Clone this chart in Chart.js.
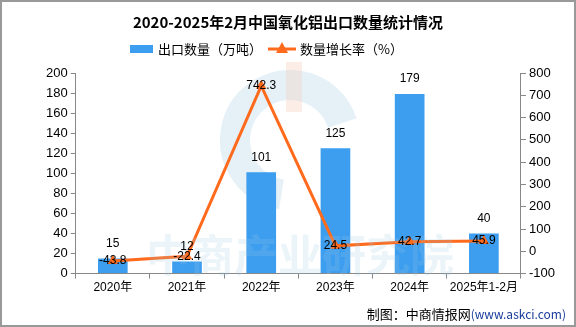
<!DOCTYPE html>
<html>
<head>
<meta charset="utf-8">
<script src="https://cdn.jsdelivr.net/npm/chart.js@4.4.1/dist/chart.umd.min.js"></script>
<style>
  html, body { margin: 0; padding: 0; background: #fff; }
  #wrap { width: 576px; height: 327px; position: relative; }
</style>
</head>
<body>
<div id="wrap"><canvas id="chart" width="576" height="327"></canvas></div>
<script>
const categories = ['2020年', '2021年', '2022年', '2023年', '2024年', '2025年1-2月'];
const exportVolume = [15, 12, 101, 125, 179, 40];
const growthRate = [-43.8, -22.4, 742.3, 24.5, 42.7, 45.9];
const leftTicks = [0, 20, 40, 60, 80, 100, 120, 140, 160, 180, 200];
const rightTicks = [-100, 0, 100, 200, 300, 400, 500, 600, 700, 800];

const BLUE = '#3d9ef0';
const ORANGE = '#ff6a1c';
const FONT = '"Liberation Sans", "Noto Sans CJK SC", sans-serif';

// title, legend, watermark, labels, frame
const decor = {
  id: 'decor',
  beforeDatasetsDraw(chart) {
    const ctx = chart.ctx;
    ctx.save();
    // faint logo ring
    ctx.globalAlpha = 0.3;
    ctx.strokeStyle = '#a9cde6';
    ctx.lineWidth = 30;
    ctx.beginPath();
    ctx.arc(290, 140, 55, Math.PI * 0.55, Math.PI * 1.9);
    ctx.stroke();
    ctx.fillStyle = '#f6c7b0';
    ctx.fillRect(286, 62, 16, 50);
    ctx.restore();
  },
  afterDatasetsDraw(chart) {
    const ctx = chart.ctx;
    ctx.save();
    // watermark text
    ctx.globalAlpha = 0.2;
    ctx.fillStyle = '#9cc6e2';
    ctx.font = 'bold 44px "Noto Sans CJK SC"';
    ctx.textAlign = 'center';
    ctx.textBaseline = 'middle';
    ctx.fillText('中商产业研究院', 300, 255);
    ctx.globalAlpha = 1;

    // value labels
    ctx.fillStyle = '#000';
    ctx.font = '12px ' + FONT;
    const barMeta = chart.getDatasetMeta(0);
    barMeta.data.forEach((bar, i) => {
      ctx.fillText(String(exportVolume[i]), bar.x, bar.y - 15);
    });
    const lineMeta = chart.getDatasetMeta(1);
    lineMeta.data.forEach((pt, i) => {
      ctx.fillText(growthRate[i].toFixed(1), pt.x, pt.y);
    });

    // title
    ctx.font = 'bold 15px "Noto Sans CJK SC"';
    ctx.fillText('2020-2025年2月中国氧化铝出口数量统计情况', 288, 22);

    // legend
    ctx.fillStyle = BLUE;
    ctx.fillRect(130, 45, 23, 8);
    ctx.fillStyle = '#000';
    ctx.font = '13px "Noto Sans CJK SC"';
    ctx.textAlign = 'left';
    ctx.fillText('出口数量（万吨）', 158, 49);
    ctx.strokeStyle = ORANGE;
    ctx.lineWidth = 3;
    ctx.beginPath();
    ctx.moveTo(268, 49);
    ctx.lineTo(296, 49);
    ctx.stroke();
    ctx.fillStyle = ORANGE;
    ctx.beginPath();
    ctx.moveTo(282, 42);
    ctx.lineTo(288, 53);
    ctx.lineTo(276, 53);
    ctx.closePath();
    ctx.fill();
    ctx.fillStyle = '#000';
    ctx.fillText('数量增长率（%）', 300, 49);

    // footer
    ctx.textAlign = 'right';
    ctx.font = '12px "Noto Sans CJK SC"';
    ctx.fillStyle = '#1a3d9c';
    ctx.fillText('(www.askci.com)', 566, 314);
    const w = ctx.measureText('(www.askci.com)').width;
    ctx.fillStyle = '#000';
    ctx.font = '13px "Noto Sans CJK SC"';
    ctx.fillText('制图：中商情报网', 566 - w, 314);

    // frame
    ctx.strokeStyle = '#999';
    ctx.lineWidth = 2;
    ctx.strokeRect(1, 1, 574, 325);
    ctx.restore();
  }
};

new Chart(document.getElementById('chart'), {
  data: {
    labels: categories,
    datasets: [
      {
        type: 'bar',
        label: '出口数量（万吨）',
        data: exportVolume,
        backgroundColor: BLUE,
        yAxisID: 'y',
        barPercentage: 0.4,
        categoryPercentage: 1,
        order: 2
      },
      {
        type: 'line',
        label: '数量增长率（%）',
        data: growthRate,
        borderColor: ORANGE,
        backgroundColor: ORANGE,
        borderWidth: 3,
        pointStyle: 'triangle',
        pointRadius: 6,
        pointBorderWidth: 0,
        tension: 0,
        yAxisID: 'y1',
        order: 1
      }
    ]
  },
  options: {
    responsive: false,
    animation: false,
    layout: { padding: { top: 73, left: 43, right: 18, bottom: 30 } },
    plugins: {
      legend: { display: false },
      title: { display: false },
      tooltip: { enabled: false }
    },
    scales: {
      x: {
        offset: true,
        grid: { display: true, drawOnChartArea: false, drawTicks: true, tickLength: 5, color: '#888', offset: true },
        border: { color: '#888' },
        ticks: { color: '#000', font: { size: 12, family: FONT }, maxRotation: 0, padding: 2 }
      },
      y: {
        position: 'left',
        min: leftTicks[0],
        max: leftTicks[leftTicks.length - 1],
        afterBuildTicks: axis => { axis.ticks = leftTicks.map(v => ({ value: v })); },
        grid: { drawOnChartArea: false, tickLength: 5, color: '#888' },
        border: { color: '#888' },
        ticks: { color: '#000', font: { size: 13, family: FONT }, padding: 3 }
      },
      y1: {
        position: 'right',
        min: rightTicks[0],
        max: rightTicks[rightTicks.length - 1],
        afterBuildTicks: axis => { axis.ticks = rightTicks.map(v => ({ value: v })); },
        grid: { drawOnChartArea: false, tickLength: 5, color: '#888' },
        border: { color: '#888' },
        ticks: { color: '#000', font: { size: 13, family: FONT }, padding: 3 }
      }
    }
  },
  plugins: [decor]
});
</script>
</body>
</html>
